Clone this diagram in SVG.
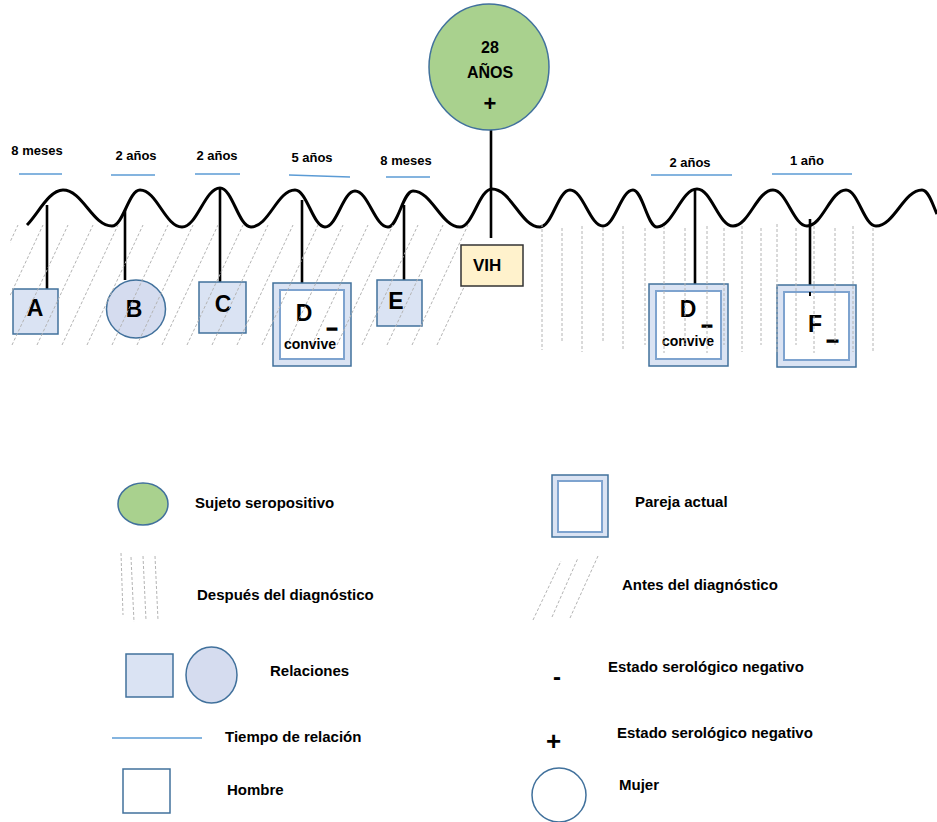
<svg xmlns="http://www.w3.org/2000/svg" width="937" height="822" viewBox="0 0 937 822">
<style>
text{font-family:"Liberation Sans",Arial,sans-serif;font-weight:bold;fill:#000}
.top{font-size:13px;text-anchor:middle}
.big{font-size:23px;text-anchor:middle}
.small{font-size:14px;text-anchor:middle}
.leg{font-size:15px}
.dash{font-size:14px;stroke:#000;stroke-width:1.5}
.tl{stroke:#5b9bd5;stroke-width:1.5;fill:none}
.stem{stroke:#000;stroke-width:2.6;fill:none}
.rel{fill:#dae3f3;stroke:#41719c;stroke-width:1.5}
.relc{fill:#d5dcef;stroke:#41719c;stroke-width:1.5}
.out{fill:#dae3f3;stroke:#41719c;stroke-width:1.5}
.inn{fill:#fff;stroke:#7ea3cf;stroke-width:2}
.hat{stroke:#b4b4b4;stroke-width:1;stroke-dasharray:3 2;fill:none}
.plain{fill:#fff;stroke:#41719c;stroke-width:1.5}
</style>
<defs>
<clipPath id="lc"><rect x="10" y="205" width="470" height="145"/></clipPath>
</defs>
<rect width="937" height="822" fill="#fff"/>

<g id="time-lines">
<line class="tl" x1="19" y1="174" x2="62" y2="174"/>
<line class="tl" x1="111" y1="175" x2="155" y2="175"/>
<line class="tl" x1="195" y1="174" x2="240" y2="174"/>
<line class="tl" x1="289" y1="175" x2="350" y2="177"/>
<line class="tl" x1="386" y1="177" x2="430" y2="177"/>
<line class="tl" x1="651" y1="175" x2="732" y2="175"/>
<line class="tl" x1="772" y1="174" x2="852" y2="174"/>
<text class="top" x="37" y="155">8 meses</text>
<text class="top" x="136" y="160">2 años</text>
<text class="top" x="217" y="160">2 años</text>
<text class="top" x="312" y="162">5 años</text>
<text class="top" x="406" y="165">8 meses</text>
<text class="top" x="690" y="167">2 años</text>
<text class="top" x="807" y="165">1 año</text>
</g>

<g id="timeline">
<path d="M27,225 C38,214 49,190 63,190 C82.6,190 92.4,226 112,226 C123.2,226 128.8,190 140,190 C156.8,190 165.2,227 182,227 C197.2,227 204.8,188 220,188 C232.4,188 238.6,227 251,227 C268.6,227 277.4,190 295,190 C307,190 313,227 325,227 C337,227 343,191 355,191 C368.2,191 374.8,227 388,227 C398,227 403,191 413,191 C431.8,191 441.2,227 460,227 C472.8,227 479.2,189 492,189 C511.2,189 520.8,227 540,227 C552,227 558,190 570,190 C583.2,190 589.8,226 603,226 C615,226 621,190 633,190 C642.6,190 647.4,227 657,227 C673,227 681,189 697,189 C711.4,189 718.6,226 733,226 C749,226 757,190 773,190 C786.6,190 793.4,226 807,226 C822.6,226 830.4,190 846,190 C858,190 864,226 876,226 C894.4,226 903.6,190 922,190 C929,190 933,206 937,214" fill="none" stroke="#000" stroke-width="3"/>
</g>

<g id="connectors">
<line class="stem" x1="47" y1="205" x2="47" y2="289"/>
<line class="stem" x1="125" y1="210" x2="125" y2="280"/>
<line class="stem" x1="220" y1="187" x2="220" y2="282"/>
<line class="stem" x1="302" y1="200" x2="302" y2="283"/>
<line class="stem" x1="404" y1="205" x2="404" y2="280"/>
<line class="stem" x1="491" y1="130" x2="491" y2="238"/>
<line class="stem" x1="695" y1="189" x2="695" y2="284"/>
<line class="stem" x1="810" y1="219" x2="810" y2="285"/>
</g>

<g id="node-A">
<rect class="rel" x="13" y="289" width="45" height="45"/>
<text class="big" x="35" y="316">A</text>
</g>
<g id="node-B">
<ellipse class="relc" cx="136" cy="309" rx="29.5" ry="29"/>
<text class="big" x="134" y="317">B</text>
</g>
<g id="node-C">
<rect class="rel" x="199" y="282" width="47" height="51"/>
<text class="big" x="223" y="312">C</text>
</g>
<g id="node-D1">
<rect class="out" x="273" y="283" width="78" height="83"/>
<rect class="inn" x="280" y="290" width="64" height="69"/>
<text class="big" x="304" y="321">D</text>
<text class="dash" x="327" y="333" textLength="10" lengthAdjust="spacingAndGlyphs">-</text>
<text class="small" x="310" y="349">convive</text>
</g>
<g id="node-E">
<rect class="rel" x="377" y="280" width="45" height="46"/>
<text class="big" x="396" y="309">E</text>
</g>
<g id="node-D2">
<rect class="out" x="649" y="284" width="79" height="82"/>
<rect class="inn" x="656" y="291" width="65" height="68"/>
<text class="big" x="688" y="317">D</text>
<text class="dash" x="702" y="330" textLength="10" lengthAdjust="spacingAndGlyphs">-</text>
<text class="small" x="688" y="346">convive</text>
</g>
<g id="node-F">
<rect class="out" x="777" y="285" width="79" height="82"/>
<rect class="inn" x="784" y="292" width="65" height="68"/>
<line x1="810" y1="292" x2="810" y2="296" stroke="#000" stroke-width="2"/>
<text class="big" x="815" y="332">F</text>
<text class="dash" x="827" y="345" textLength="11" lengthAdjust="spacingAndGlyphs">-</text>
</g>

<g id="hatch-before" clip-path="url(#lc)">
<line class="hat" x1="-38" y1="345" x2="18" y2="225"/>
<line class="hat" x1="-13" y1="345" x2="43" y2="225"/>
<line class="hat" x1="12" y1="345" x2="68" y2="225"/>
<line class="hat" x1="37" y1="345" x2="93" y2="225"/>
<line class="hat" x1="62" y1="345" x2="118" y2="225"/>
<line class="hat" x1="87" y1="345" x2="143" y2="225"/>
<line class="hat" x1="112" y1="345" x2="168" y2="225"/>
<line class="hat" x1="137" y1="345" x2="193" y2="225"/>
<line class="hat" x1="162" y1="345" x2="218" y2="225"/>
<line class="hat" x1="187" y1="345" x2="243" y2="225"/>
<line class="hat" x1="212" y1="345" x2="268" y2="225"/>
<line class="hat" x1="237" y1="345" x2="293" y2="225"/>
<line class="hat" x1="262" y1="345" x2="318" y2="225"/>
<line class="hat" x1="287" y1="345" x2="343" y2="225"/>
<line class="hat" x1="312" y1="345" x2="368" y2="225"/>
<line class="hat" x1="337" y1="345" x2="393" y2="225"/>
<line class="hat" x1="362" y1="345" x2="418" y2="225"/>
<line class="hat" x1="387" y1="345" x2="443" y2="225"/>
<line class="hat" x1="412" y1="345" x2="468" y2="225"/>
<line class="hat" x1="437" y1="345" x2="493" y2="225"/>
</g>

<g id="hatch-after">
<line class="hat" x1="542" y1="224" x2="542" y2="350"/>
<line class="hat" x1="562" y1="228" x2="562" y2="343"/>
<line class="hat" x1="582" y1="226" x2="582" y2="352"/>
<line class="hat" x1="603" y1="228" x2="603" y2="343"/>
<line class="hat" x1="623" y1="226" x2="623" y2="350"/>
<line class="hat" x1="645" y1="228" x2="645" y2="345"/>
<line class="hat" x1="664" y1="226" x2="664" y2="353"/>
<line class="hat" x1="685" y1="228" x2="685" y2="345"/>
<line class="hat" x1="707" y1="226" x2="707" y2="353"/>
<line class="hat" x1="724" y1="228" x2="724" y2="345"/>
<line class="hat" x1="742" y1="226" x2="742" y2="352"/>
<line class="hat" x1="761" y1="228" x2="761" y2="345"/>
<line class="hat" x1="777" y1="224" x2="777" y2="353"/>
<line class="hat" x1="796" y1="228" x2="796" y2="345"/>
<line class="hat" x1="814" y1="226" x2="814" y2="353"/>
<line class="hat" x1="835" y1="228" x2="835" y2="345"/>
<line class="hat" x1="853" y1="226" x2="853" y2="352"/>
<line class="hat" x1="873" y1="228" x2="873" y2="353"/>
</g>

<g id="node-VIH">
<rect x="461" y="245" width="62" height="41" fill="#fff2cc" stroke="#333" stroke-width="1.5"/>
<text x="473" y="271" style="font-size:17px">VIH</text>
</g>

<g id="node-subject">
<ellipse cx="489" cy="67" rx="60" ry="63" fill="#a9d18e" stroke="#41719c" stroke-width="1.5"/>
<text x="490" y="53" style="font-size:16px;text-anchor:middle">28</text>
<text x="490" y="78" style="font-size:16px;text-anchor:middle">AÑOS</text>
<text x="490" y="111" style="font-size:22px;text-anchor:middle">+</text>
</g>

<g id="legend">
<ellipse cx="143" cy="504" rx="25" ry="21" fill="#a9d18e" stroke="#41719c" stroke-width="1.5"/>
<text class="leg" x="195" y="508">Sujeto seropositivo</text>

<line class="hat" x1="121" y1="553" x2="123" y2="615"/>
<line class="hat" x1="131" y1="557" x2="134" y2="622"/>
<line class="hat" x1="143" y1="556" x2="146" y2="620"/>
<line class="hat" x1="155" y1="556" x2="158" y2="620"/>
<text class="leg" x="197" y="600">Después del diagnóstico</text>

<rect class="rel" x="126" y="654" width="47" height="43"/>
<ellipse class="relc" cx="211.5" cy="675" rx="25.5" ry="28"/>
<text class="leg" x="270" y="676">Relaciones</text>

<line class="tl" x1="112" y1="738" x2="202" y2="738"/>
<text class="leg" x="225" y="742">Tiempo de relación</text>

<rect class="plain" x="123" y="769" width="47" height="44"/>
<text class="leg" x="227" y="795">Hombre</text>

<rect class="out" x="552" y="475" width="56" height="62"/>
<rect class="inn" x="558" y="481" width="44" height="51"/>
<text class="leg" x="635" y="507">Pareja actual</text>

<line class="hat" x1="533" y1="620" x2="561" y2="561"/>
<line class="hat" x1="552" y1="617" x2="578" y2="558"/>
<line class="hat" x1="570" y1="618" x2="598" y2="556"/>
<text class="leg" x="622" y="590">Antes del diagnóstico</text>

<text x="553" y="685" style="font-size:24px">-</text>
<text class="leg" x="608" y="672">Estado serológico negativo</text>

<text x="546" y="750" style="font-size:26px">+</text>
<text class="leg" x="617" y="738">Estado serológico negativo</text>

<circle class="plain" cx="559" cy="795" r="27"/>
<text class="leg" x="619" y="790">Mujer</text>
</g>
</svg>
